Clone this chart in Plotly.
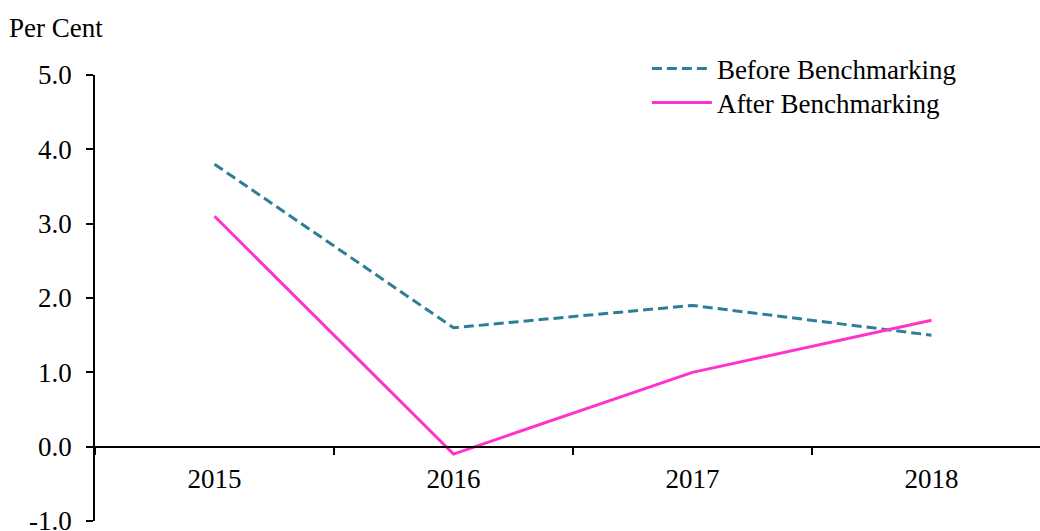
import plotly.graph_objects as go

years = ["2015", "2016", "2017", "2018"]
before = [3.8, 1.6, 1.9, 1.5]
after = [3.1, -0.1, 1.0, 1.7]
y_ticks = [-1, 0, 1, 2, 3, 4, 5]
y_tick_labels = ["-1.0", "0.0", "1.0", "2.0", "3.0", "4.0", "5.0"]

FONT = "Times New Roman, Liberation Serif, serif"

fig = go.Figure()
fig.add_trace(go.Scatter(
    x=years, y=before, mode="lines", name="Before Benchmarking",
    line=dict(color="#2E7F96", width=3, dash="10px,5px"),
    legend="legend",
))
fig.add_trace(go.Scatter(
    x=years, y=after, mode="lines", name="After Benchmarking",
    line=dict(color="#FF33CC", width=3),
    legend="legend2",
))

leg_common = dict(
    xanchor="left", yanchor="middle",
    bgcolor="rgba(0,0,0,0)", font=dict(family=FONT, size=27),
    itemwidth=60,
)

fig.update_layout(
    width=1040, height=531,
    margin=dict(l=95, r=0, t=75, b=10, autoexpand=False),
    paper_bgcolor="white", plot_bgcolor="white",
    font=dict(family=FONT, size=27, color="black"),
    showlegend=True,
    legend=dict(x=0.584, y=(521 - 69) / 446, **leg_common),
    legend2=dict(x=0.584, y=(521 - 103) / 446, **leg_common),
    xaxis=dict(
        type="category", range=[-0.5, 3.454],
        anchor="free", position=1/6, automargin=False,
        showline=True, linecolor="black", linewidth=1.5,
        ticks="outside", tickson="boundaries", ticklen=8, tickcolor="black", tickwidth=1.5,
        showgrid=False, zeroline=False,
        tickfont=dict(family=FONT, size=27),
        ticklabelstandoff=8,
    ),
    yaxis=dict(
        range=[-1, 5], tickvals=y_ticks, ticktext=y_tick_labels,
        automargin=False,
        showline=True, linecolor="black", linewidth=1.5,
        ticks="outside", ticklen=7, tickcolor="black", tickwidth=1.5,
        showgrid=False, zeroline=False,
        tickfont=dict(family=FONT, size=27),
        ticklabelstandoff=9, ticklabeloverflow="allow",
    ),
    annotations=[dict(
        text="Per Cent", xref="paper", yref="paper",
        x=-88/945, y=1 + 47/446, xanchor="left", yanchor="middle",
        showarrow=False, font=dict(family=FONT, size=27),
    )],
)

fig.write_html("out.html")
